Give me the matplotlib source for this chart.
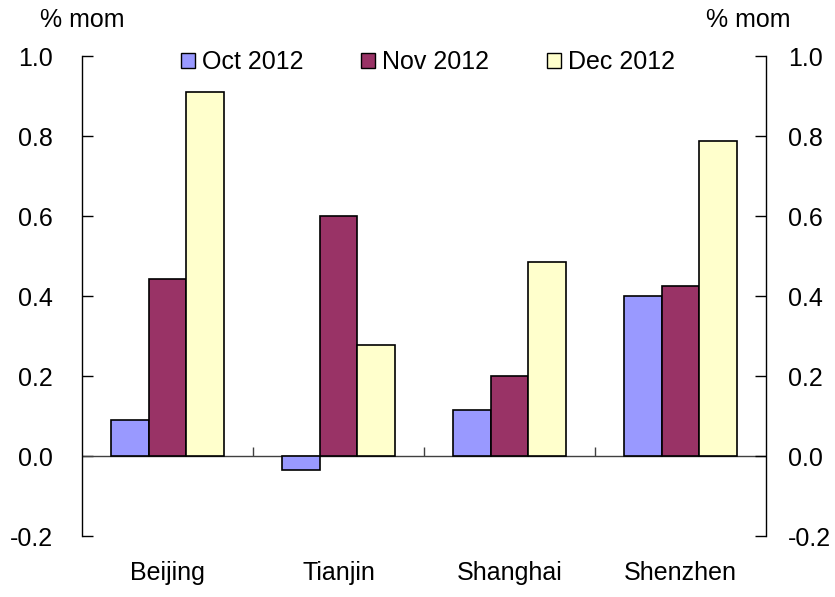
import matplotlib
matplotlib.use("Agg")
import matplotlib.pyplot as plt
import numpy as np
from matplotlib.patches import Patch

plt.rcParams['font.family'] = ['Liberation Sans', 'DejaVu Sans']

cities = ["Beijing", "Tianjin", "Shanghai", "Shenzhen"]
series_names = ["Oct 2012", "Nov 2012", "Dec 2012"]
oct_2012 = [0.09, -0.036, 0.116, 0.40]
nov_2012 = [0.443, 0.60, 0.20, 0.425]
dec_2012 = [0.91, 0.277, 0.485, 0.787]
colors = ["#9999FF", "#993366", "#FFFFCC"]
yticks = [-0.2, 0.0, 0.2, 0.4, 0.6, 0.8, 1.0]

FS = 18
fig = plt.figure(figsize=(8.35, 5.97), dpi=100)
ax = fig.add_axes([82/835, 1-536/597, (766-82)/835, (536-56)/597])

x = np.arange(len(cities))
w = 0.222
for i, (vals, c) in enumerate(zip([oct_2012, nov_2012, dec_2012], colors)):
    ax.bar(x + (i-1)*w, vals, width=w, color=c, edgecolor='black', linewidth=1.2, zorder=3)

ax.set_xlim(-0.5, 3.5)
ax.set_ylim(-0.2, 1.0)
ax.axhline(0, color='#404040', lw=1.0, zorder=2)
ax.vlines([0.5, 1.5, 2.5], 0, 0.022, color='#404040', lw=1.0, zorder=2)

for s in ['top', 'bottom', 'right']:
    ax.spines[s].set_visible(False)
ax.spines['left'].set_linewidth(1.0)

ax.set_xticks(x, cities, fontsize=FS)
ax.tick_params(axis='x', length=0, pad=18)
ax.set_yticks(yticks, [f"{v:.1f}" for v in yticks], fontsize=FS)
ax.tick_params(axis='y', direction='in', length=8, pad=21, width=1.0)

ax2 = ax.twinx()
ax2.set_ylim(-0.2, 1.0)
for s in ['top', 'bottom', 'left']:
    ax2.spines[s].set_visible(False)
ax2.spines['right'].set_linewidth(1.0)
ax2.set_yticks(yticks, [f"{v:.1f}" for v in yticks], fontsize=FS)
ax2.tick_params(axis='y', direction='in', length=8, pad=16, width=1.0)

fig.text(40/835, 1-20/597, "% mom", fontsize=FS, ha='left', va='center')
fig.text(790/835, 1-20/597, "% mom", fontsize=FS, ha='right', va='center')

handles = [Patch(facecolor=c, edgecolor='black', linewidth=1.0) for c in colors]
fig.legend(handles, series_names, loc='center', bbox_to_anchor=(428/835, 1-62/597),
           ncol=3, frameon=False, fontsize=FS, handlelength=0.55, handleheight=0.55,
           handletextpad=0.3, columnspacing=2.3, borderpad=0)

fig.savefig("out.png", dpi=100)
